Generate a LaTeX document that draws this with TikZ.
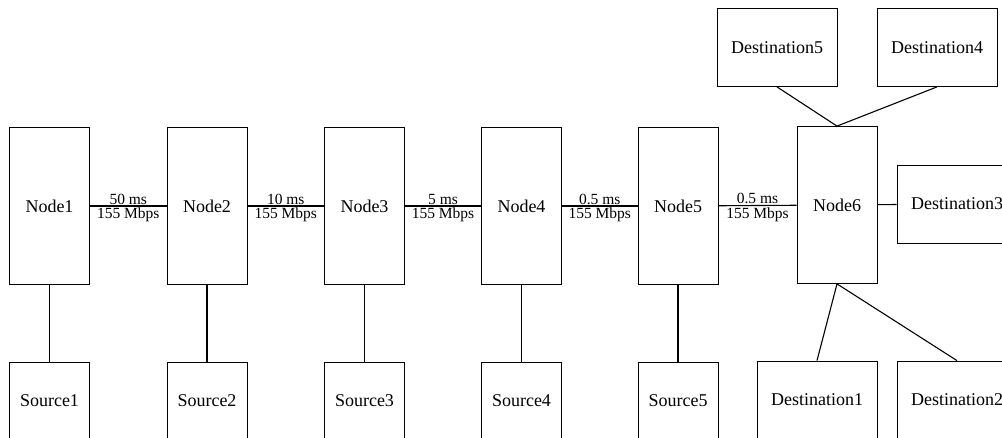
\documentclass[tikz,border=0pt]{standalone}
\usepackage{fontspec}
\setmainfont{Liberation Serif}
\usetikzlibrary{positioning}

\begin{document}
\begin{tikzpicture}[x=1pt,y=-1pt,
    router/.style={draw,line width=0.8pt,minimum width=80pt,minimum height=157pt,inner sep=0pt,font=\fontsize{18}{20}\selectfont},
    host/.style={draw,line width=0.8pt,minimum width=80pt,minimum height=78pt,inner sep=0pt,font=\fontsize{18}{20}\selectfont},
    sink/.style={host,minimum width=120pt},
    link/.style={line width=1.1pt},
    delay/.style={font=\fontsize{15.5}{17}\selectfont,inner sep=1.2pt}]
                % Page frame, boxes at the edges are cut off
                \clip (0,0) rectangle (1002,437);

                % Routers with their sources underneath
                \foreach \i/\x in {1/49.5, 2/207, 3/364.5, 4/521.5, 5/678} {
                    \node[router] (node\i) at (\x,206) {Node\i};
                    \node[host] (source\i) at (\x,401) {Source\i};
                    \draw[link] (node\i) -- (source\i);
                }
                \node[router] (node6) at (837,205) {Node6};

                % Links with delay and bandwidth
                \foreach \a/\b/\d in {1/2/50 ms, 2/3/10 ms, 3/4/5 ms, 4/5/0.5 ms, 5/6/0.5 ms}
                    \draw[link] (node\a) -- node[delay,above] {\d} node[delay,below] {155 Mbps} (node\b);

                % Destinations around the last router
                \node[sink] (dest5) at (777,47.5) {Destination5};
                \node[sink] (dest4) at (937,47.5) {Destination4};
                \node[sink] (dest3) at (957,204) {Destination3};
                \node[sink] (dest1) at (817,400) {Destination1};
                \node[sink] (dest2) at (957,400) {Destination2};

                \draw[link] (dest5.south) -- (node6.north) -- (dest4.south);
                \draw[link] (dest1.north) -- (node6.south) -- (dest2.north);
                \draw[link] (node6) -- (dest3);
\end{tikzpicture}
\end{document}
